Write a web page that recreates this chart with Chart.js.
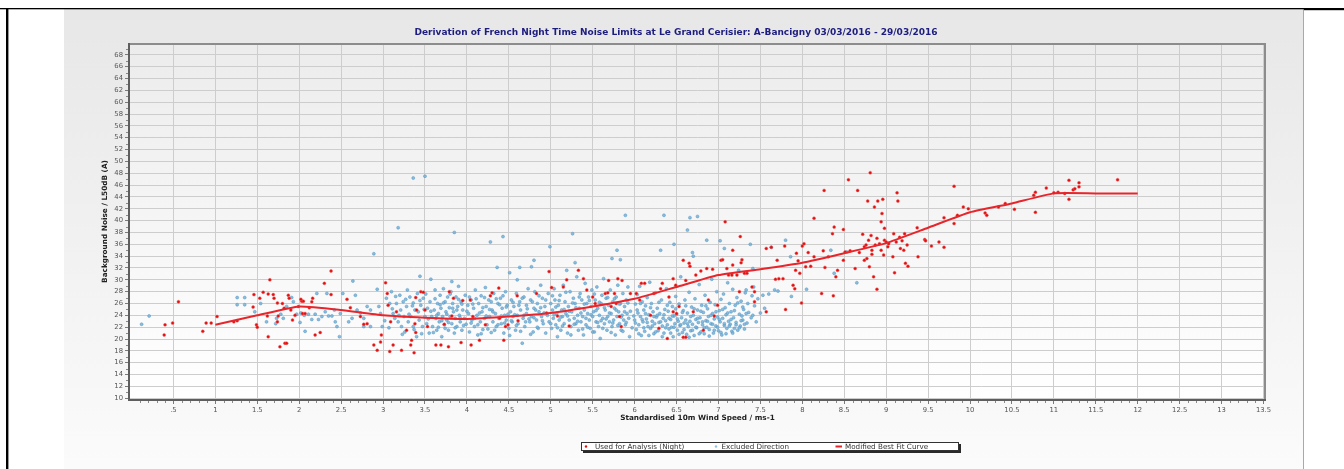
<!DOCTYPE html>
<html>
<head>
<meta charset="utf-8">
<title>French Night Time Noise Limits</title>
<script src="https://cdn.jsdelivr.net/npm/chart.js@4.4.1/dist/chart.umd.min.js"></script>
<style>
  html, body { margin: 0; padding: 0; background: #fff; }
  canvas { display: block; }
</style>
</head>
<body>
<canvas id="noise" width="1344" height="469"></canvas>
<script>
// ---- chart text ----
const chartTitle = 'Derivation of French Night Time Noise Limits at Le Grand Cerisier: A-Bancigny 03/03/2016 - 29/03/2016';
const xAxisTitle = 'Standardised 10m Wind Speed / ms-1';
const yAxisTitle = 'Background Noise / L50dB (A)';
const seriesNames = ['Used for Analysis (Night)', 'Excluded Direction', 'Modified Best Fit Curve'];

// ---- tick labels ----
const xTickValues = [0.5, 1, 1.5, 2, 2.5, 3, 3.5, 4, 4.5, 5, 5.5, 6, 6.5, 7, 7.5, 8, 8.5, 9, 9.5, 10, 10.5, 11, 11.5, 12, 12.5, 13, 13.5];
const xTickLabels = ['.5', '1', '1.5', '2', '2.5', '3', '3.5', '4', '4.5', '5', '5.5', '6', '6.5', '7', '7.5', '8', '8.5', '9', '9.5', '10', '10.5', '11', '11.5', '12', '12.5', '13', '13.5'];
const yTickValues = [10, 12, 14, 16, 18, 20, 22, 24, 26, 28, 30, 32, 34, 36, 38, 40, 42, 44, 46, 48, 50, 52, 54, 56, 58, 60, 62, 64, 66, 68];

// ---- best fit curve (wind speed, dB) ----
const curveX = [1, 1.5, 2, 2.5, 3, 3.5, 4, 4.5, 5, 5.5, 6, 6.5, 7, 7.5, 8, 8.5, 9, 9.5, 10, 10.5, 11, 11.5, 12];
const curveY = [22.4, 24.0, 25.5, 24.9, 24.0, 23.6, 23.4, 23.8, 24.4, 25.5, 26.8, 28.8, 30.8, 31.8, 32.9, 34.5, 36.2, 38.8, 41.4, 42.9, 44.6, 44.6, 44.6];

// ---- night-time measurements used for analysis [wind speed, dB] ----
const usedPoints = [
  [0.40,22.4],[0.39,20.7],[0.49,22.7],[0.56,26.3],[0.85,21.3],[0.89,22.7],[0.95,22.7],[1.02,23.8],
  [1.22,22.9],[1.26,23.1],[1.46,27.5],[1.45,25.4],[1.49,22.4],[1.50,22.0],[1.53,26.9],[1.57,27.9],
  [1.65,30.0],[1.63,27.6],[1.63,20.4],[1.62,23.9],[1.69,27.5],[1.70,26.9],[1.74,26.1],[1.75,23.9],
  [1.74,22.9],[1.77,18.7],[1.83,19.3],[1.85,19.3],[1.80,26.0],[1.82,25.2],[1.87,27.4],[1.88,26.9],
  [1.90,24.9],[1.92,23.2],[1.95,24.0],[1.99,25.5],[2.03,26.4],[2.02,26.7],[2.05,26.4],[2.04,24.3],
  [2.07,24.3],[2.12,25.3],[2.15,26.3],[2.16,26.9],[2.19,20.7],[2.25,21.1],[2.30,29.4],[2.38,31.5],
  [2.38,27.5],[2.57,26.7],[2.61,25.3],[2.73,23.8],[2.77,22.5],[2.81,22.6],[2.89,19.0],[2.93,18.1],
  [2.97,19.5],[2.98,20.7],[3.03,29.5],[3.05,27.7],[3.06,25.7],[3.08,17.9],[3.12,19.0],[3.09,22.9],
  [3.16,24.6],[3.22,18.1],[3.28,21.5],[3.34,19.8],[3.33,19.0],[3.37,17.7],[3.38,22.6],[3.39,21.1],
  [3.40,24.9],[3.39,27.0],[3.45,28.0],[3.48,27.9],[3.50,24.9],[3.53,22.1],[3.63,19.0],[3.69,19.0],
  [3.73,22.5],[3.79,28.0],[3.78,18.7],[3.82,23.9],[3.84,26.9],[3.93,19.4],[3.95,26.5],[4.04,26.6],
  [4.07,23.8],[4.05,19.0],[4.15,19.8],[4.22,22.4],[4.28,27.3],[4.30,27.8],[4.38,28.6],[4.39,23.5],
  [4.44,19.8],[4.46,22.1],[4.49,22.4],[4.60,27.3],[4.61,23.1],[4.83,27.7],[4.95,24.4],[4.98,31.4],
  [5.01,28.7],[5.08,23.9],[5.15,28.8],[5.19,30.0],[5.22,22.2],[5.33,31.6],[5.39,30.2],[5.43,28.3],
  [5.50,27.1],[5.53,26.0],
  [5.65,27.7],[5.68,27.8],[5.76,27.7],[5.69,29.9],[5.80,30.2],[5.85,29.9],[5.72,25.5],[5.78,26.0],
  [5.82,23.8],[5.84,22.1],[5.95,27.7],[6.02,27.7],[6.06,26.6],[6.08,29.4],[6.12,29.4],[6.19,24.0],
  [6.23,27.7],[6.29,21.8],[6.31,28.5],[6.33,29.4],[6.39,20.1],[6.41,27.1],[6.46,30.2],[6.46,24.6],
  [6.49,29.1],[6.50,24.3],[6.53,25.5],[6.58,20.3],[6.61,20.3],[6.58,33.3],[6.61,29.9],[6.65,32.8],
  [6.66,32.3],[6.70,24.6],[6.73,30.8],[6.79,31.5],[6.82,21.5],[6.86,31.9],[6.88,26.6],[6.93,31.8],
  [6.95,23.9],[6.99,25.7],[7.03,33.3],[7.05,33.4],[7.08,39.8],[7.10,31.9],[7.12,30.8],[7.16,30.8],
  [7.17,35.0],[7.17,32.5],[7.22,30.8],[7.25,28.0],[7.26,37.3],[7.27,32.9],[7.28,33.4],[7.31,31.1],
  [7.34,31.1],[7.40,28.8],[7.43,28.0],[7.43,26.3],[7.57,35.3],[7.57,24.6],[7.63,35.5],[7.68,30.1],
  [7.70,33.3],[7.72,30.2],[7.77,30.2],[7.79,35.7],[7.80,25.0],[7.89,29.1],[7.91,28.5],[7.93,34.5],
  [7.92,31.6],[7.95,33.2],[7.97,31.1],[7.99,26.1],[8.00,35.7],[8.02,36.1],[8.04,32.2],[8.07,34.6],
  [8.10,32.3],[8.14,40.4],[8.14,33.9],[8.23,27.7],[8.25,34.9],[8.26,45.1],[8.27,32.1],[8.31,33.9],
  [8.36,37.8],[8.37,27.3],[8.38,38.9],[8.40,30.5],[8.42,31.6],[8.49,38.5],[8.49,33.3],[8.51,34.7],
  [8.55,46.9],[8.57,34.9],[8.63,31.9],[8.66,45.1],[8.68,34.6],[8.72,37.7],[8.74,35.6],[8.76,35.9],
  [8.74,33.3],[8.77,33.6],[8.78,43.3],[8.79,36.7],[8.80,32.2],[8.81,48.1],[8.82,37.5],[8.83,35.0],
  [8.83,34.3],[8.85,30.5],[8.86,42.3],[8.87,35.9],[8.89,28.4],[8.89,37.0],[8.90,43.3],[8.92,36.1],
  [8.94,39.8],[8.94,35.0],[8.95,41.2],[8.96,43.6],[8.97,34.2],[8.98,36.7],[8.98,38.7],[9.00,36.4],
  [9.02,35.6],[9.03,36.1],[9.08,33.9],[9.09,37.8],[9.10,31.2],[9.12,36.4],[9.13,44.7],[9.14,43.3],
  [9.16,37.2],[9.17,35.3],[9.19,36.6],[9.21,35.0],[9.22,37.8],[9.23,32.8],[9.25,35.9],[9.26,32.3],
  [9.37,38.8],[9.38,33.9],[9.46,36.8],[9.47,36.6],[9.54,35.7],[9.63,36.4],[9.69,35.5],[9.69,40.5],
  [9.81,45.8],[9.81,39.5],[9.85,40.9],[9.92,42.3],[9.98,42.0],[10.18,41.3],[10.20,40.9],[10.34,42.3],
  [10.42,42.9],[10.53,41.9],[10.76,44.3],[10.78,44.8],[10.78,41.4],[10.91,45.5],[11.00,44.7],[11.05,44.8],
  [11.13,44.6],[11.18,46.8],[11.18,43.6],[11.23,45.2],[11.25,45.4],[11.30,46.4],[11.30,45.7],[11.76,46.9]
];

// ---- measurements excluded by wind direction [wind speed, dB] ----
const excludedPoints = [
  [0.12,22.5],[0.21,23.9],
  [1.26,27.0],[1.35,27.0],[1.26,25.8],[1.35,25.8],[1.47,24.6],[1.54,26.0],[1.61,22.9],[1.72,22.6],
  [1.73,23.5],[1.78,24.2],[1.81,23.5],[1.85,25.5],[1.91,27.0],[1.93,26.3],[1.97,24.2],[2.01,22.8],
  [2.02,24.4],[2.06,24.0],[2.07,21.3],[2.11,24.2],[2.15,23.3],[2.19,24.2],[2.21,27.7],[2.23,23.3],
  [2.27,23.8],[2.31,24.6],[2.33,27.7],[2.35,23.9],[2.39,23.9],[2.42,24.9],[2.43,22.9],[2.45,22.1],
  [2.48,20.4],[2.49,24.3],[2.52,27.7],
  [2.59,22.9],[2.63,23.5],[2.64,29.8],[2.67,27.4],[2.69,24.9],[2.73,24.4],[2.77,23.5],[2.77,22.1],
  [2.81,25.5],[2.85,24.9],[2.85,22.1],[2.89,34.4],[2.93,28.4],[2.95,25.5],[2.97,24.3],[2.99,22.1],
  [3.04,26.9],[3.08,26.0],[3.10,28.0],[3.12,24.3],[3.14,23.5],[3.16,26.0],[3.18,22.9],[3.18,38.8],
  [3.20,27.4],[3.21,24.9],[3.22,22.1],[3.24,26.3],[3.25,23.8],[3.26,21.2],[3.28,25.5],[3.29,28.3],
  [3.30,22.9],[3.32,27.1],[3.33,23.8],[3.36,22.1],[3.36,26.1],[3.36,47.2],[3.38,24.9],[3.40,20.4],
  [3.41,27.7],[3.43,23.2],[3.44,30.6],[3.45,25.7],[3.47,22.1],[3.48,26.9],[3.50,23.8],[3.50,47.5],
  [3.52,22.6],[3.53,25.2],[3.55,21.0],[3.56,26.3],[3.57,30.1],[3.58,23.8],[3.59,22.1],[3.61,24.9],
  [3.62,28.3],[3.63,23.5],[3.64,21.5],[3.65,26.0],[3.66,24.3],[3.67,22.9],[3.68,27.4],[3.69,25.2],
  [3.70,20.4],[3.71,23.8],[3.72,28.5],[3.73,22.4],[3.74,26.3],[3.75,24.6],[3.76,23.2],[3.77,27.1],
  [3.78,21.5],[3.79,25.3],[3.80,23.8],[3.81,28.0],[3.82,29.7],[3.82,22.6],[3.83,26.0],[3.84,24.6],
  [3.85,21.0],[3.85,38.0],[3.86,23.5],[3.87,27.1],[3.88,22.1],[3.89,25.5],[3.90,28.9],[3.91,24.0],
  [3.92,22.9],[3.93,26.3],[3.94,21.5],[3.95,24.9],
  [3.97,23.5],[3.98,27.4],[3.99,22.5],[4.01,25.7],[4.02,24.3],[4.03,21.2],[4.05,26.6],[4.06,23.2],
  [4.08,25.2],[4.09,22.1],[4.10,28.3],[4.12,24.0],[4.13,20.7],[4.14,26.0],[4.16,22.9],[4.17,27.3],
  [4.18,24.6],[4.19,21.6],[4.21,23.5],[4.22,28.7],[4.23,25.5],[4.24,22.4],[4.26,26.6],[4.27,23.8],
  [4.28,36.4],[4.29,21.1],[4.30,24.9],[4.31,22.9],[4.32,27.7],[4.34,24.3],[4.35,22.1],[4.36,32.1],
  [4.37,26.0],[4.38,23.5],[4.40,26.9],[4.41,22.6],[4.42,25.2],[4.43,37.3],[4.44,21.0],[4.45,24.0],
  [4.46,28.0],[4.47,23.2],[4.48,25.7],[4.50,21.8],[4.51,31.2],[4.52,24.6],[4.53,26.6],[4.54,22.9],
  [4.55,23.8],[4.56,25.5],[4.58,21.5],[4.59,27.7],[4.60,30.0],[4.60,24.0],[4.61,22.6],[4.63,26.3],
  [4.63,32.1],[4.64,24.9],[4.66,19.3],[4.67,23.5],[4.68,27.1],[4.69,22.1],[4.71,25.7],[4.71,24.3],
  [4.73,28.5],[4.75,22.9],[4.76,26.6],[4.77,32.2],[4.77,23.8],[4.79,21.2],[4.80,33.3],[4.80,25.2],
  [4.81,28.0],[4.83,23.2],[4.84,26.0],[4.85,21.8],[4.86,24.6],[4.88,29.1],[4.89,23.8],[4.90,26.9],
  [4.91,22.6],[4.93,25.5],[4.94,21.0],
  [4.96,24.0],[4.97,27.7],[4.98,22.9],[4.99,35.6],[5.00,26.0],[5.01,21.8],[5.02,24.9],[5.03,23.5],
  [5.04,28.5],[5.05,26.6],[5.06,22.4],[5.07,24.3],[5.08,20.4],[5.09,25.7],[5.10,23.2],[5.11,27.4],
  [5.12,21.5],[5.13,24.9],[5.14,23.8],[5.15,29.1],[5.16,22.6],[5.17,26.3],[5.18,24.3],[5.19,31.6],
  [5.20,21.0],[5.21,25.5],[5.22,23.2],[5.23,28.0],[5.24,22.1],[5.25,24.6],[5.26,37.8],[5.27,26.9],
  [5.28,23.5],[5.29,32.9],[5.29,26.0],[5.30,22.6],[5.31,30.5],[5.32,24.0],[5.33,21.5],[5.34,25.2],
  [5.35,27.7],[5.36,22.9],[5.37,26.6],[5.38,23.8],[5.39,20.7],[5.40,24.9],[5.41,29.4],[5.42,22.4],
  [5.43,26.0],[5.44,24.3],[5.45,27.1],[5.46,23.2],[5.47,21.8],[5.48,25.5],[5.49,28.3],[5.50,23.8],
  [5.51,24.6],[5.52,21.2],[5.53,26.6],[5.54,22.9],[5.55,28.8],[5.56,25.2],[5.57,22.1],[5.58,24.0],
  [5.59,20.1],[5.60,26.0],[5.61,27.4],[5.62,23.5],[5.63,30.2],[5.64,22.6],[5.65,24.9],[5.66,26.9],
  [5.67,21.5],[5.68,23.8],[5.69,25.7],[5.70,22.9],[5.71,28.3],[5.72,24.3],[5.73,33.6],[5.73,22.1],
  [5.74,26.3],[5.75,23.2],[5.76,25.2],[5.77,20.7],[5.78,27.1],[5.79,35.0],[5.79,23.8],[5.80,29.1],
  [5.81,24.6],[5.82,22.6],[5.83,33.4],[5.83,26.0],[5.84,21.5],[5.85,24.0],[5.86,27.7],[5.87,23.2],
  [5.88,25.5],[5.89,40.9],[5.89,22.4],[5.90,26.6],[5.91,24.3],[5.92,28.8],[5.93,23.5],[5.94,20.4],
  [6.00,23.2],[6.01,25.9],[6.02,21.6],[6.03,27.5],[6.04,24.4],[6.05,22.4],[6.06,28.9],[6.07,23.8],
  [6.08,20.6],[6.09,26.3],[6.10,22.9],[6.11,24.9],[6.12,21.3],[6.13,25.6],[6.14,23.4],[6.15,27.0],
  [6.16,22.1],[6.17,24.1],[6.18,29.6],[6.19,21.8],[6.20,26.0],[6.21,23.0],[6.22,24.6],[6.23,20.9],
  [6.24,22.6],[6.25,27.8],[6.26,23.7],[6.27,25.2],[6.28,21.4],[6.29,22.8],[6.30,24.3],[6.31,35.0],
  [6.32,26.6],[6.33,22.2],[6.34,23.5],[6.35,40.9],[6.35,21.0],[6.36,25.0],[6.37,23.1],[6.38,28.5],
  [6.39,22.4],[6.40,24.7],[6.41,21.7],[6.42,26.2],[6.43,23.3],[6.44,22.0],[6.45,25.5],[6.46,20.4],
  [6.47,36.0],[6.47,23.9],[6.48,22.6],[6.49,27.2],[6.50,24.2],[6.51,21.5],[6.52,23.0],[6.53,25.9],
  [6.54,22.3],[6.55,30.5],[6.56,23.6],[6.57,21.1],[6.58,24.8],[6.59,22.7],[6.60,26.6],[6.61,23.2],
  [6.62,20.8],[6.63,38.4],[6.63,24.4],[6.64,22.1],[6.65,27.9],[6.66,40.5],[6.66,23.0],[6.67,21.4],
  [6.68,25.4],[6.69,34.6],[6.69,22.5],[6.70,34.0],[6.70,24.0],[6.71,20.6],[6.72,26.8],[6.73,23.3],
  [6.74,21.9],[6.75,40.7],[6.75,24.9],[6.76,22.8],[6.77,29.2],[6.78,23.6],[6.79,21.2],[6.80,25.7],
  [6.81,22.4],[6.82,24.5],[6.83,20.9],[6.84,27.4],[6.85,23.1],[6.86,36.7],[6.86,22.0],[6.87,25.1],
  [6.88,23.8],[6.89,21.6],[6.90,26.2],[6.91,22.6],[6.92,30.1],[6.93,24.3],[6.94,21.0],[6.95,23.4],
  [6.96,25.8],[6.97,22.2],[6.98,28.0],[6.99,23.7],[7.00,21.4],[7.01,24.8],[7.02,36.6],[7.02,22.9],
  [7.03,26.7],[7.04,20.7],[7.05,23.5],[7.06,27.6],[7.07,35.3],[7.07,22.3],[7.08,25.3],[7.09,24.1],
  [7.10,21.8],[7.11,29.5],[7.12,23.0],[7.13,26.0],[7.14,22.5],[7.15,24.6],[7.16,21.3],[7.17,28.4],
  [7.18,23.6],[7.19,21.8],[7.20,25.7],[7.21,22.8],[7.22,27.0],[7.23,21.5],[7.24,31.6],[7.25,24.2],
  [7.26,22.2],[7.27,26.4],[7.28,23.9],[7.29,23.2],[7.30,25.0],[7.31,21.7],[7.32,27.8],[7.33,28.3],
  [7.34,22.7],[7.35,26.0],[7.36,24.5],[7.38,36.0],[7.39,23.6],[7.40,27.3],[7.41,31.9],[7.41,24.0],
  [7.42,28.8],[7.43,25.6],[7.45,22.9],[7.47,26.8],[7.50,24.4],[7.53,27.4],[7.55,25.2],[7.60,27.6],
  [7.63,35.5],[7.67,28.3],[7.71,28.1],[7.80,36.7],[7.86,33.9],[7.87,27.2],[8.05,28.4],[8.34,35.0],
  [8.38,31.1],[8.53,34.7],[8.65,29.5],
  [3.02,23.1],[3.07,21.9],[3.11,25.1],[3.15,27.2],[3.19,24.0],[3.23,20.8],[3.27,26.7],[3.31,24.2],
  [3.35,25.6],[3.37,21.6],[3.42,24.6],[3.44,26.5],[3.46,20.9],[3.49,25.0],[3.51,27.6],[3.54,23.4],
  [3.57,24.7],[3.60,21.1],[3.62,26.8],[3.64,24.0],[3.66,22.0],[3.68,25.8],[3.70,23.1],[3.72,26.1],
  [3.74,21.8],[3.76,24.2],[3.78,22.8],[3.80,27.6],[3.83,25.2],[3.86,21.9],[3.88,24.9],[3.90,26.7],
  [3.92,23.6],[3.94,25.9],[3.96,22.3],
  [4.00,24.7],[4.03,27.1],[4.05,22.7],[4.07,25.9],[4.09,23.5],[4.11,26.8],[4.13,22.4],[4.15,24.4],
  [4.17,20.9],[4.19,25.3],[4.21,27.0],[4.23,23.9],[4.25,21.7],[4.27,25.0],[4.29,26.3],[4.31,24.6],
  [4.33,21.5],[4.35,26.8],[4.37,22.4],[4.39,25.8],[4.41,23.9],[4.43,27.3],[4.45,22.7],[4.47,25.4],
  [4.49,24.2],[4.51,20.6],[4.53,23.1],[4.55,26.2],[4.57,24.1],[4.59,22.3],[4.62,25.7],[4.64,21.3],
  [4.66,26.9],[4.68,24.0],[4.70,22.9],[4.72,25.1],[4.74,23.4],[4.76,20.8],[4.78,26.3],[4.80,23.6],
  [4.82,24.9],[4.84,22.0],[4.86,27.3],[4.88,25.3],[4.90,23.1],[4.92,24.4],[4.94,26.6],
  [5.00,22.6],[5.02,27.3],[5.04,24.1],[5.06,25.4],[5.08,21.9],[5.10,26.5],[5.12,23.7],[5.14,22.2],
  [5.16,25.0],[5.18,27.9],[5.20,23.9],[5.22,24.7],[5.24,20.7],[5.26,26.1],[5.28,22.5],[5.30,25.3],
  [5.32,23.0],[5.34,27.1],[5.36,24.4],[5.38,21.7],[5.40,25.9],[5.42,23.5],[5.44,22.0],[5.46,26.5],
  [5.48,24.1],[5.50,21.2],[5.52,27.6],[5.54,24.8],[5.56,22.8],[5.58,26.2],[5.60,23.1],[5.62,21.8],
  [5.64,25.3],[5.66,23.4],[5.68,27.0],[5.70,24.4],[5.72,21.1],[5.74,22.7],[5.76,26.8],[5.78,24.9],
  [5.80,22.3],[5.82,25.9],[5.84,23.7],[5.86,21.3],[5.88,24.6],[5.90,22.8],[5.92,26.1],[5.95,24.7],
  [5.97,21.9],[5.99,23.9],
  [6.01,22.7],[6.03,24.9],[6.05,20.9],[6.07,26.0],[6.09,23.3],[6.11,21.9],[6.13,24.3],[6.15,22.8],
  [6.17,20.6],[6.19,25.3],[6.21,22.2],[6.23,23.8],[6.25,21.2],[6.27,24.0],[6.29,26.2],[6.31,22.9],
  [6.33,20.4],[6.35,24.1],[6.37,21.9],[6.39,25.7],[6.41,23.5],[6.43,21.0],[6.45,23.9],[6.47,22.0],
  [6.49,25.1],[6.51,23.4],[6.53,20.8],[6.55,22.4],[6.57,24.5],[6.59,21.6],[6.61,25.6],[6.63,22.6],
  [6.65,20.3],[6.67,23.8],[6.69,21.5],[6.71,25.1],[6.73,22.0],[6.75,23.5],[6.77,20.9],[6.79,24.7],
  [6.81,22.9],[6.83,21.9],[6.85,25.6],[6.87,23.0],[6.89,20.5],[6.91,24.0],[6.93,22.5],[6.95,21.5],
  [6.97,24.6],[6.99,22.0],[7.01,23.3],[7.03,21.1],[7.05,25.0],[7.07,22.6],[7.09,20.9],[7.11,24.4],
  [7.13,22.2],[7.15,23.3],[7.17,21.0],[7.19,24.8],[7.21,22.4],[7.23,26.1],[7.25,21.9],[7.27,23.1],
  [7.29,25.4],[7.31,22.5],[7.33,24.3]
];

const toXY = pts => pts.map(([x, y]) => ({ x, y }));

const FONT = "'DejaVu Sans', Verdana, sans-serif";

// Background panel, plot frame, minor ticks, title and the boxed legend
const decor = {
  id: 'decor',
  beforeDraw(chart) {
    const { ctx, chartArea: a, width, height } = chart;
    ctx.save();
    ctx.fillStyle = '#ffffff';
    ctx.fillRect(0, 0, width, height);
    const pg = ctx.createLinearGradient(0, 9, 0, height);
    pg.addColorStop(0, '#e7e7e7');
    pg.addColorStop(1, '#fbfbfb');
    ctx.fillStyle = pg;
    ctx.fillRect(64, 9, 1240, height - 9);
    ctx.fillStyle = '#a9a9a9';
    ctx.fillRect(1303, 9, 1, height - 9);
    ctx.fillStyle = '#000';
    ctx.fillRect(0, 8, width, 1.3);
    ctx.fillRect(1304, 8, width - 1304, 2.2);
    ctx.fillRect(6, 8, 2.4, height - 8);
    const ag = ctx.createLinearGradient(0, a.top, 0, a.bottom);
    ag.addColorStop(0, '#ececec');
    ag.addColorStop(1, '#ffffff');
    ctx.fillStyle = ag;
    ctx.fillRect(a.left, a.top, a.right - a.left, a.bottom - a.top);
    ctx.restore();
  },
  afterDraw(chart) {
    const { ctx, chartArea: a, scales } = chart;
    const xs = scales.x, ys = scales.y;
    ctx.save();
    // minor ticks
    ctx.strokeStyle = '#8a8a8a';
    ctx.lineWidth = 1;
    ctx.beginPath();
    for (let i = 1; i <= 135; i++) {
      if (i % 5 === 0) continue;
      const px = Math.round(xs.getPixelForValue(i / 10)) + 0.5;
      ctx.moveTo(px, a.bottom + 1);
      ctx.lineTo(px, a.bottom + 3);
    }
    for (let v = 11; v <= 69; v += 2) {
      const py = Math.round(ys.getPixelForValue(v)) + 0.5;
      ctx.moveTo(a.left - 1, py);
      ctx.lineTo(a.left - 3, py);
    }
    ctx.stroke();
    // plot frame
    ctx.fillStyle = '#8c8c8c';
    ctx.fillRect(a.left, a.top, a.right - a.left, 2);
    ctx.fillRect(a.right - 2, a.top, 2, a.bottom - a.top);
    ctx.fillStyle = '#5e5e5e';
    ctx.fillRect(a.left - 1, a.top, 2, a.bottom - a.top + 1);
    ctx.fillRect(a.left - 1, a.bottom - 1, a.right - a.left + 1, 2);
    // title
    ctx.fillStyle = '#1d1d80';
    ctx.font = `bold 9px ${FONT}`;
    ctx.textAlign = 'center';
    ctx.textBaseline = 'middle';
    ctx.fillText(chartTitle, 676, 33);
    // legend box
    const bx = 581, by = 442, bw = 378, bh = 9;
    ctx.fillStyle = '#2a2a2a';
    ctx.fillRect(bx + 2, by + 2, bw, bh);
    ctx.fillStyle = '#ffffff';
    ctx.fillRect(bx, by, bw, bh);
    ctx.strokeStyle = '#333';
    ctx.lineWidth = 1;
    ctx.strokeRect(bx + 0.5, by + 0.5, bw - 1, bh - 1);
    const cy = by + bh / 2;
    ctx.fillStyle = '#e01010';
    ctx.beginPath(); ctx.arc(586, cy, 1.2, 0, Math.PI * 2); ctx.fill();
    ctx.fillStyle = '#8fc3df';
    ctx.beginPath(); ctx.arc(716, cy, 1.2, 0, Math.PI * 2); ctx.fill();
    ctx.strokeStyle = '#e8252b';
    ctx.lineWidth = 2;
    ctx.beginPath(); ctx.moveTo(835.5, cy); ctx.lineTo(842, cy); ctx.stroke();
    ctx.fillStyle = '#333';
    ctx.font = `7.2px ${FONT}`;
    ctx.textAlign = 'left';
    ctx.fillText(seriesNames[0], 595, cy + 0.3);
    ctx.fillText(seriesNames[1], 721.5, cy + 0.3);
    ctx.fillText(seriesNames[2], 845, cy + 0.3);
    ctx.restore();
  }
};

new Chart(document.getElementById('noise'), {
  type: 'scatter',
  data: {
    datasets: [
      {
        label: seriesNames[2],
        type: 'line',
        data: curveX.map((x, i) => ({ x, y: curveY[i] })),
        borderColor: '#e8252b',
        borderWidth: 2,
        pointRadius: 0,
        tension: 0.15,
        fill: false,
        order: 0
      },
      {
        label: seriesNames[0],
        data: toXY(usedPoints),
        pointRadius: 1.5,
        backgroundColor: '#e30f0f',
        borderColor: 'rgba(240,90,90,0.55)',
        borderWidth: 0.8,
        order: 1
      },
      {
        label: seriesNames[1],
        data: toXY(excludedPoints),
        pointRadius: 1.5,
        backgroundColor: 'rgba(118,178,214,0.85)',
        borderColor: 'rgba(80,148,196,0.8)',
        borderWidth: 0.6,
        order: 2
      }
    ]
  },
  options: {
    responsive: false,
    animation: false,
    events: [],
    devicePixelRatio: 1,
    layout: { padding: { left: 64, top: 43, right: 78, bottom: 0 } },
    plugins: { legend: { display: false }, tooltip: { enabled: false }, title: { display: false } },
    scales: {
      x: {
        type: 'linear',
        min: -0.03,
        max: 13.53,
        afterFit(s) { s.height = 69; },
        afterBuildTicks(s) { s.ticks = xTickValues.map(v => ({ value: v })); },
        grid: { color: '#cdcdcd', lineWidth: 1, drawTicks: true, tickLength: 4, tickColor: '#7a7a7a' },
        border: { display: false },
        ticks: {
          autoSkip: false,
          maxRotation: 0,
          padding: 2,
          color: '#555',
          font: { family: FONT, size: 6.8 },
          callback: (v, i) => xTickLabels[i]
        },
        title: {
          display: true,
          text: xAxisTitle,
          color: '#222',
          font: { family: FONT, size: 7.3, weight: 'bold' },
          padding: { top: 0, bottom: 46.6 }
        }
      },
      y: {
        type: 'linear',
        min: 9.7,
        max: 70,
        afterFit(s) { s.width = 65; },
        afterBuildTicks(s) { s.ticks = yTickValues.map(v => ({ value: v })); },
        grid: { color: '#cdcdcd', lineWidth: 1, drawTicks: true, tickLength: 4, tickColor: '#7a7a7a' },
        border: { display: false },
        ticks: {
          autoSkip: false,
          padding: 2,
          color: '#555',
          font: { family: FONT, size: 6.8 },
          callback: (v, i) => String(yTickValues[i])
        },
        title: {
          display: true,
          text: yAxisTitle,
          color: '#222',
          font: { family: FONT, size: 7.3, weight: 'bold' },
          padding: { top: 36.6, bottom: 0 }
        }
      }
    }
  },
  plugins: [decor]
});
</script>
</body>
</html>
